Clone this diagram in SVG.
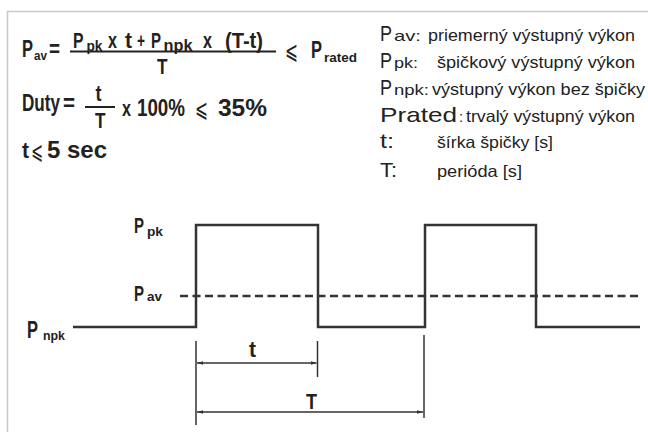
<svg xmlns="http://www.w3.org/2000/svg" width="648" height="432" viewBox="0 0 648 432">
<style>
.f{font-family:"Liberation Sans",Arial,sans-serif;font-weight:bold;fill:#222}
.r{font-family:"Liberation Sans",Arial,sans-serif;fill:#222}
.m{font-family:"DejaVu Sans","Liberation Sans",sans-serif;fill:#222}
.w{fill:none;stroke:#333;stroke-width:2.5}
.d{fill:none;stroke:#333;stroke-width:1.5}
</style>
<defs>
<marker id="ah" viewBox="0 0 10 6" refX="10" refY="3" markerWidth="6" markerHeight="3.6" orient="auto-start-reverse" markerUnits="userSpaceOnUse">
<path d="M0,0 L10,3 L0,6 Z" fill="#333"/>
</marker>
</defs>
<rect width="648" height="432" fill="#fff"/>
<path d="M7.5,432 V11.5 H648" fill="none" stroke="#c8c8c8" stroke-width="1.5"/>

<g id="formula-pav">
<text class="f" transform="translate(22,57) scale(1,1.45)" font-size="16" textLength="11" lengthAdjust="spacingAndGlyphs">P</text>
<text class="f" x="34" y="60" font-size="12" textLength="13" lengthAdjust="spacingAndGlyphs">av</text>
<text class="f" transform="translate(49,57) scale(1,1.45)" font-size="16" textLength="11" lengthAdjust="spacingAndGlyphs">=</text>
<text class="f" transform="translate(73,47.5) scale(1,1.45)" font-size="15.5" textLength="10.5" lengthAdjust="spacingAndGlyphs">P</text>
<text class="f" x="86.5" y="50.5" font-size="14" textLength="16" lengthAdjust="spacingAndGlyphs">pk</text>
<text class="f" transform="translate(108,47.5) scale(1,1.45)" font-size="15" textLength="9" lengthAdjust="spacingAndGlyphs">x</text>
<text class="f" transform="translate(125,47.5) scale(1,1.45)" font-size="15" textLength="7" lengthAdjust="spacingAndGlyphs">t</text>
<text class="f" transform="translate(137,47.5) scale(1,1.45)" font-size="14" textLength="8" lengthAdjust="spacingAndGlyphs">+</text>
<text class="f" transform="translate(151,47.5) scale(1,1.45)" font-size="15" textLength="10" lengthAdjust="spacingAndGlyphs">P</text>
<text class="f" x="163.5" y="50.5" font-size="16" textLength="29" lengthAdjust="spacingAndGlyphs">npk</text>
<text class="f" transform="translate(203,47.5) scale(1,1.45)" font-size="15" textLength="9" lengthAdjust="spacingAndGlyphs">x</text>
<text class="f" transform="translate(225,47.5) scale(1,1.45)" font-size="15" textLength="38" lengthAdjust="spacingAndGlyphs">(T-t)</text>
<line x1="70" y1="51.5" x2="276" y2="51.5" stroke="#222" stroke-width="2"/>
<text class="f" transform="translate(157,74) scale(1,1.45)" font-size="15" textLength="10.5" lengthAdjust="spacingAndGlyphs">T</text>
<text class="m" transform="translate(285,59) scale(1,1.45)" font-size="17" textLength="13" lengthAdjust="spacingAndGlyphs">⩽</text>
<text class="f" transform="translate(311,58) scale(1,1.45)" font-size="16" textLength="11" lengthAdjust="spacingAndGlyphs">P</text>
<text class="f" x="324" y="61.5" font-size="13" textLength="33" lengthAdjust="spacingAndGlyphs">rated</text>
</g>

<g id="formula-duty">
<text class="f" transform="translate(22,111) scale(1,1.45)" font-size="16" textLength="38" lengthAdjust="spacingAndGlyphs">Duty</text>
<text class="f" transform="translate(63,111) scale(1,1.45)" font-size="16" textLength="12" lengthAdjust="spacingAndGlyphs">=</text>
<text class="f" transform="translate(95.5,101) scale(1,1.45)" font-size="15" textLength="6" lengthAdjust="spacingAndGlyphs">t</text>
<line x1="85" y1="107" x2="115" y2="107" stroke="#222" stroke-width="2"/>
<text class="f" transform="translate(95,128) scale(1,1.45)" font-size="15" textLength="10.5" lengthAdjust="spacingAndGlyphs">T</text>
<text class="f" transform="translate(122,116) scale(1,1.45)" font-size="15" textLength="9" lengthAdjust="spacingAndGlyphs">x</text>
<text class="f" transform="translate(137,116) scale(1,1.45)" font-size="16" textLength="48" lengthAdjust="spacingAndGlyphs">100%</text>
<text class="m" transform="translate(195,117) scale(1,1.45)" font-size="17" textLength="13" lengthAdjust="spacingAndGlyphs">⩽</text>
<text class="f" transform="translate(218,116) scale(1,1.45)" font-size="16" textLength="49" lengthAdjust="spacingAndGlyphs">35%</text>
</g>

<g id="formula-t">
<text class="f" transform="translate(22,158) scale(1,1.45)" font-size="15" textLength="7" lengthAdjust="spacingAndGlyphs">t</text>
<text class="m" transform="translate(31,159) scale(1,1.45)" font-size="16.5" textLength="12" lengthAdjust="spacingAndGlyphs">⩽</text>
<text class="f" transform="translate(47,158) scale(1,1.45)" font-size="17" textLength="60" lengthAdjust="spacingAndGlyphs">5 sec</text>
</g>

<g id="legend">
<text class="r" transform="translate(380,41) scale(1,1.3)" font-size="16.5" textLength="12" lengthAdjust="spacingAndGlyphs">P</text>
<text class="r" x="394" y="41" font-size="15" textLength="27" lengthAdjust="spacingAndGlyphs">av:</text>
<text class="r" x="428" y="41" font-size="16.5" textLength="207" lengthAdjust="spacingAndGlyphs">priemerný výstupný výkon</text>
<text class="r" transform="translate(380,68) scale(1,1.3)" font-size="16.5" textLength="12" lengthAdjust="spacingAndGlyphs">P</text>
<text class="r" x="394" y="68" font-size="15" textLength="24" lengthAdjust="spacingAndGlyphs">pk:</text>
<text class="r" x="437" y="68" font-size="16.5" textLength="198" lengthAdjust="spacingAndGlyphs">špičkový výstupný výkon</text>
<text class="r" transform="translate(380,95) scale(1,1.3)" font-size="16.5" textLength="12" lengthAdjust="spacingAndGlyphs">P</text>
<text class="r" x="394" y="95" font-size="15" textLength="35" lengthAdjust="spacingAndGlyphs">npk:</text>
<text class="r" x="432" y="95" font-size="16.5" textLength="213" lengthAdjust="spacingAndGlyphs">výstupný výkon bez špičky</text>
<text class="r" x="380" y="122" font-size="21" textLength="77" lengthAdjust="spacingAndGlyphs">Prated</text>
<text class="r" x="459" y="122" font-size="15">:</text>
<text class="r" x="466" y="122" font-size="16.5" textLength="169" lengthAdjust="spacingAndGlyphs">trvalý výstupný výkon</text>
<text class="r" x="380" y="148" font-size="21" textLength="14" lengthAdjust="spacingAndGlyphs">t:</text>
<text class="r" x="437" y="148" font-size="16.5" textLength="116" lengthAdjust="spacingAndGlyphs">šírka špičky [s]</text>
<text class="r" x="380" y="177" font-size="21" textLength="17" lengthAdjust="spacingAndGlyphs">T:</text>
<text class="r" x="437" y="177" font-size="16.5" textLength="85" lengthAdjust="spacingAndGlyphs">perióda [s]</text>
</g>

<g id="label-ppk">
<text class="f" transform="translate(134,232.5) scale(1,1.45)" font-size="15" textLength="10" lengthAdjust="spacingAndGlyphs">P</text>
<text class="f" x="147" y="236" font-size="13" textLength="16" lengthAdjust="spacingAndGlyphs">pk</text>
</g>
<g id="label-pav">
<text class="f" transform="translate(134,300.5) scale(1,1.45)" font-size="15" textLength="10" lengthAdjust="spacingAndGlyphs">P</text>
<text class="f" x="147" y="301" font-size="13" textLength="15" lengthAdjust="spacingAndGlyphs">av</text>
</g>
<g id="label-pnpk">
<text class="f" transform="translate(27,338) scale(1,1.55)" font-size="16" textLength="11" lengthAdjust="spacingAndGlyphs">P</text>
<text class="f" x="43" y="340" font-size="13" textLength="22" lengthAdjust="spacingAndGlyphs">npk</text>
</g>

<g id="connectors">
<path class="w" d="M73,327 H196 V225 H318 V327 H425 V225 H536 V327 H640"/>
<line class="w" x1="180" y1="296" x2="640" y2="296" stroke-dasharray="8,4.5"/>
<line class="d" x1="196" y1="341" x2="196" y2="425"/>
<line class="d" x1="317.5" y1="341" x2="317.5" y2="377"/>
<line class="d" x1="424" y1="335" x2="424" y2="418"/>
<line class="d" x1="197" y1="363" x2="316.5" y2="363" marker-start="url(#ah)" marker-end="url(#ah)"/>
<line class="d" x1="197" y1="412" x2="423" y2="412" marker-start="url(#ah)" marker-end="url(#ah)"/>
</g>
<g id="label-t">
<text class="f" transform="translate(249,357) scale(1,1.45)" font-size="15" textLength="7" lengthAdjust="spacingAndGlyphs">t</text>
</g>
<g id="label-T">
<text class="f" transform="translate(306,409) scale(1,1.45)" font-size="15" textLength="11" lengthAdjust="spacingAndGlyphs">T</text>
</g>
</svg>
